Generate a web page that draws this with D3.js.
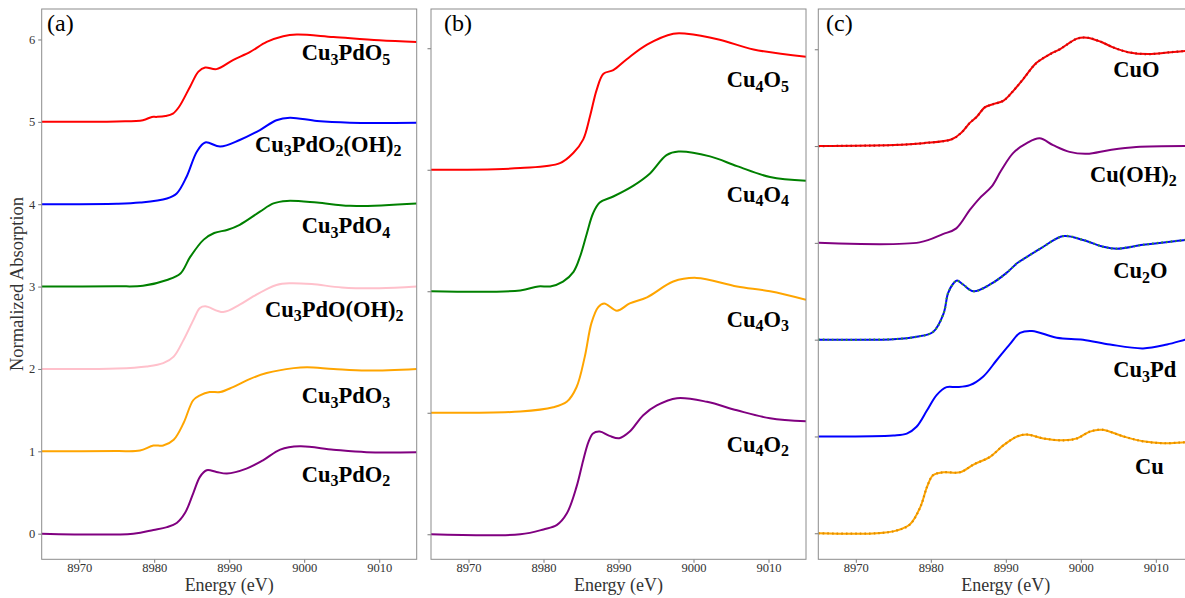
<!DOCTYPE html>
<html>
<head>
<meta charset="utf-8">
<script src="https://cdn.jsdelivr.net/npm/d3@7"></script>
<style>
  body { margin: 0; background: #fff; }
  svg { display: block; }
  text { font-family: "Liberation Serif", "Times New Roman", serif; }
</style>
</head>
<body>
<svg id="chart" width="1185" height="598"></svg>
<script>
// ---------- Cu K-edge XANES spectra (normalized absorption vs. energy in eV) ----------
const xTicks = [8970, 8980, 8990, 9000, 9010];
const panelLetters = ["(a)", "(b)", "(c)"];
const SERIF = "'Liberation Serif', 'Times New Roman', serif";

// Panel (a): Cu3PdOx(OH)y
const eCu3PdO5 = [8965, 8975, 8978.5, 8979.7, 8980.3, 8981.5, 8982.5, 8983.3, 8984.8, 8985.9, 8986.8, 8988.3, 8990.5, 8992.8, 8995, 8997.2, 8999, 9003.9, 9010, 9015];
const muCu3PdO5 = [0, 0.005, 0.02, 0.06, 0.06, 0.07, 0.10, 0.18, 0.43, 0.61, 0.66, 0.64, 0.75, 0.85, 0.97, 1.04, 1.06, 1.03, 0.99, 0.97];
const eCu3PdO2OH2 = [8965, 8975, 8978.1, 8981.7, 8983, 8984.3, 8985.7, 8986.8, 8988.8, 8991.4, 8994.1, 8996.3, 8998.1, 9001.7, 9006.1, 9015];
const muCu3PdO2OH2 = [0, 0.005, 0.02, 0.07, 0.13, 0.33, 0.64, 0.75, 0.70, 0.78, 0.90, 1.02, 1.05, 1.01, 0.99, 0.99];
const eCu3PdO4 = [8965, 8975, 8978.5, 8981.7, 8983.5, 8984.8, 8986.6, 8988, 8989.8, 8991.4, 8994.1, 8995.9, 8997.7, 9001.7, 9006.1, 9015];
const muCu3PdO4 = [0, 0.003, 0.01, 0.08, 0.16, 0.36, 0.57, 0.65, 0.69, 0.75, 0.91, 1.01, 1.04, 1.02, 0.98, 1.01];
const eCu3PdOOH2 = [8965, 8975, 8979, 8981.2, 8982.6, 8983.9, 8985.2, 8986.1, 8986.8, 8989.2, 8991.4, 8993.2, 8995, 8996.3, 8998, 9001, 9005, 9010, 9015];
const muCu3PdOOH2 = [0, 0.005, 0.03, 0.07, 0.15, 0.35, 0.59, 0.74, 0.76, 0.69, 0.78, 0.88, 0.97, 1.02, 1.04, 1.03, 0.99, 0.98, 1.0];
const eCu3PdO3 = [8965, 8975, 8978.1, 8979.9, 8981.2, 8982.6, 8983.9, 8985.2, 8986.1, 8987.4, 8988.8, 8990.5, 8992.8, 8995, 8998.6, 9000.4, 9003.9, 9008.3, 9015];
const muCu3PdO3 = [0, 0.003, 0.01, 0.07, 0.07, 0.14, 0.34, 0.62, 0.68, 0.72, 0.72, 0.78, 0.88, 0.95, 1.01, 1.02, 1.0, 0.98, 1.0];
const eCu3PdO2 = [8965, 8977.2, 8979.9, 8981.7, 8983, 8984.1, 8985.2, 8986.1, 8987, 8988.3, 8989.7, 8992.3, 8994.5, 8996.8, 8999.4, 9003.9, 9008.3, 9015];
const muCu3PdO2 = [0, 0.0, 0.045, 0.08, 0.13, 0.25, 0.49, 0.69, 0.77, 0.75, 0.73, 0.79, 0.89, 1.02, 1.06, 1.02, 0.99, 0.99];

// Panel (b): Cu4Ox clusters
const eCu4O5 = [8965, 8976.9, 8982.2, 8984, 8985.3, 8986.2, 8987.1, 8988, 8989.3, 8991.1, 8993.8, 8997.3, 8999.1, 9003.5, 9008, 9015];
const muCu4O5 = [0, 0.014, 0.055, 0.14, 0.25, 0.44, 0.66, 0.79, 0.82, 0.91, 1.03, 1.12, 1.12, 1.07, 0.99, 0.93];
const eCu4O4 = [8965, 8976.9, 8979.3, 8980.9, 8982.6, 8984, 8984.9, 8985.8, 8986.6, 8987.5, 8989.3, 8992, 8994.2, 8996.4, 8998, 9002.2, 9005.8, 9010.2, 9015];
const muCu4O4 = [0, 0.006, 0.04, 0.04, 0.08, 0.16, 0.29, 0.48, 0.64, 0.73, 0.78, 0.87, 0.97, 1.12, 1.15, 1.11, 1.03, 0.94, 0.91];
const eCu4O3 = [8965, 8976.9, 8981.3, 8983.1, 8984.4, 8985.5, 8986.4, 8987.3, 8988.1, 8989.8, 8991.5, 8993.8, 8997.3, 9000.4, 9005.8, 9010.2, 9015];
const muCu4O3 = [0, 0.01, 0.045, 0.09, 0.21, 0.46, 0.74, 0.87, 0.90, 0.84, 0.90, 0.95, 1.08, 1.11, 1.04, 1.0, 0.93];
const eCu4O2 = [8965, 8976.9, 8980, 8981.8, 8983.1, 8984.4, 8985.3, 8986, 8986.6, 8987.5, 8988.8, 8990.1, 8991.5, 8993.3, 8995.1, 8997.8, 9001.8, 9005.8, 9010.2, 9015];
const muCu4O2 = [0, 0, 0.04, 0.077, 0.17, 0.39, 0.61, 0.76, 0.83, 0.845, 0.81, 0.79, 0.845, 0.98, 1.06, 1.12, 1.09, 1.02, 0.955, 0.93];

// Panel (c): reference compounds (solid = calculated, dotted = measured)
const eCuO = [8965, 8975, 8979, 8982.8, 8984.1, 8985.2, 8986.1, 8987.2, 8988.2, 8989.7, 8991.0, 8992.3, 8994.1, 8995.9, 8997.2, 8999.5, 9000.8, 9002.6, 9004.3, 9006.3, 9009.0, 9012, 9015];
const muCuO = [0, 0.01, 0.03, 0.07, 0.14, 0.24, 0.30, 0.40, 0.43, 0.47, 0.57, 0.69, 0.86, 0.95, 1.00, 1.11, 1.12, 1.08, 1.02, 0.97, 0.95, 0.97, 0.99];
const eCuOH2 = [8965, 8978.5, 8981.6, 8983.4, 8985.2, 8986.5, 8988.1, 8989.4, 8991.0, 8992.8, 8994.5, 8996.3, 8998.5, 9000.8, 9003.9, 9007.4, 9015];
const muCuOH2 = [0, 0.005, 0.09, 0.15, 0.34, 0.46, 0.58, 0.75, 0.93, 1.03, 1.08, 1.01, 0.94, 0.92, 0.96, 0.99, 1.0];
const eCu2O = [8965, 8975, 8978.1, 8980.3, 8981.7, 8982.3, 8983.0, 8983.5, 8984.3, 8985.7, 8987.9, 8990.1, 8991.5, 8992.3, 8994.6, 8997.7, 9000.3, 9003.0, 9004.8, 9008.3, 9013.9, 9015];
const muCu2O = [0, 0.005, 0.03, 0.08, 0.27, 0.48, 0.58, 0.61, 0.57, 0.50, 0.57, 0.69, 0.79, 0.83, 0.94, 1.07, 1.03, 0.96, 0.94, 0.98, 1.03, 1.04];
const eCu3Pd = [8965, 8975, 8976.8, 8978.1, 8979.5, 8980.8, 8982.1, 8983.5, 8985.2, 8987.0, 8988.8, 8990.6, 8991.9, 8993.5, 8996.8, 9000.3, 9003.9, 9008.3, 9011.5, 9013.9, 9015];
const muCu3Pd = [0, 0.01, 0.03, 0.10, 0.27, 0.43, 0.51, 0.51, 0.53, 0.62, 0.79, 0.96, 1.07, 1.09, 1.02, 1.00, 0.95, 0.91, 0.95, 1.00, 1.02];
const eCu = [8965, 8972.8, 8975.5, 8977.2, 8978.6, 8979.5, 8980.3, 8981.7, 8983.9, 8985.7, 8987.9, 8989.7, 8991.5, 8992.8, 8995.0, 8997.7, 8999.5, 9001.2, 9002.8, 9005.7, 9008.3, 9011.0, 9013.9, 9015];
const muCu = [0, 0, 0.03, 0.09, 0.27, 0.48, 0.60, 0.63, 0.63, 0.71, 0.79, 0.91, 1.00, 1.02, 0.98, 0.96, 0.98, 1.05, 1.07, 1.00, 0.95, 0.93, 0.94, 0.94];

// Vertical offsets and labels (subscripts written as _{n})
const offsetsA = [5, 4, 3, 2, 1, 0];
const labelsA = ["Cu_{3}PdO_{5}", "Cu_{3}PdO_{2}(OH)_{2}", "Cu_{3}PdO_{4}", "Cu_{3}PdO(OH)_{2}", "Cu_{3}PdO_{3}", "Cu_{3}PdO_{2}"];
const colorsA = ["#ff0000", "#0000ff", "#008000", "#ffc0cb", "#ffa500", "#800080"];
const offsetsB = [3, 2, 1, 0];
const labelsB = ["Cu_{4}O_{5}", "Cu_{4}O_{4}", "Cu_{4}O_{3}", "Cu_{4}O_{2}"];
const colorsB = ["#ff0000", "#008000", "#ffa500", "#800080"];
const offsetsC = [4, 3, 2, 1, 0];
const labelsC = ["CuO", "Cu(OH)_{2}", "Cu_{2}O", "Cu_{3}Pd", "Cu"];
const colorsC = ["#ff0000", "#800080", "#0000ff", "#0000ff", "#ffa500"];
const dotColorsC = ["#c40f0f", null, "#2e9a2e", null, "#e08e00"];

const yTicksA = [0, 1, 2, 3, 4, 5, 6];
const yTicksB = [0, 1, 2, 3, 4];
const yTicksC = [0, 1, 2, 3, 4, 5];

// ---------- layout ----------
const svg = d3.select("#chart");
const frameTop = 9, frameBottom = 559.3;
const panels = [
  { left: 41.7, right: 416.7, yDomain: [-0.311, 6.37], yTicks: yTicksA, yLabels: true,
    energies: [eCu3PdO5, eCu3PdO2OH2, eCu3PdO4, eCu3PdOOH2, eCu3PdO3, eCu3PdO2],
    mus: [muCu3PdO5, muCu3PdO2OH2, muCu3PdO4, muCu3PdOOH2, muCu3PdO3, muCu3PdO2],
    offsets: offsetsA, labels: labelsA, colors: colorsA, dots: [],
    labelPos: [[301.7, 60], [255, 151.7], [301.7, 233.3], [265, 316.7], [301.7, 403.3], [301.7, 481.7]],
    letterPos: [47, 31] },
  { left: 431, right: 806, yDomain: [-0.206, 4.323], yTicks: yTicksB, yLabels: false,
    energies: [eCu4O5, eCu4O4, eCu4O3, eCu4O2],
    mus: [muCu4O5, muCu4O4, muCu4O3, muCu4O2],
    offsets: offsetsB, labels: labelsB, colors: colorsB, dots: [],
    labelPos: [[726.7, 87.3], [726.7, 201.7], [726.7, 326.7], [726.7, 451.7]],
    letterPos: [444, 31] },
  { left: 818.3, right: 1193.3, yDomain: [-0.269, 5.416], yTicks: yTicksC, yLabels: false,
    energies: [eCuO, eCuOH2, eCu2O, eCu3Pd, eCu],
    mus: [muCuO, muCuOH2, muCu2O, muCu3Pd, muCu],
    offsets: offsetsC, labels: labelsC, colors: colorsC, dots: dotColorsC,
    labelPos: [[1113.3, 76.7], [1090, 181.7], [1113.3, 278.3], [1113.3, 377.3], [1135, 474]],
    letterPos: [826, 31] }
];

function addRichText(sel, str, x, y, size, subSize, subShift) {
  const t = sel.append("text").attr("x", x).attr("y", y)
    .style("font-family", SERIF)
    .attr("font-size", size).attr("font-weight", "bold").attr("fill", "#000");
  const parts = str.split(/(_\{[^}]*\})/).filter(s => s.length);
  let shifted = false;
  parts.forEach(p => {
    if (p.startsWith("_{")) {
      t.append("tspan").attr("font-size", subSize).attr("dy", subShift).text(p.slice(2, -1));
      shifted = true;
    } else {
      const ts = t.append("tspan").text(p);
      if (shifted) { ts.attr("dy", -subShift); shifted = false; }
    }
  });
}

panels.forEach((p, i) => {
  const x = d3.scaleLinear().domain([8965, 9015]).range([p.left, p.right]);
  const y = d3.scaleLinear().domain(p.yDomain).range([frameBottom, frameTop]);
  const g = svg.append("g");

  const clipId = "clip" + i;
  svg.append("clipPath").attr("id", clipId).append("rect")
    .attr("x", p.left).attr("y", frameTop)
    .attr("width", p.right - p.left).attr("height", frameBottom - frameTop);

  // x axis
  const xa = g.append("g").attr("transform", `translate(0,${frameBottom})`)
    .call(d3.axisBottom(x).tickValues(xTicks).tickFormat(d3.format("d")).tickSize(3.5).tickPadding(0.6));
  xa.attr("font-family", null);
  xa.select(".domain").remove();
  xa.selectAll("line").attr("stroke", "#777");
  xa.selectAll("text").style("font-family", SERIF).style("font-size", "12.5px").attr("fill", "#333");

  // y axis
  const ya = g.append("g").attr("transform", `translate(${p.left},0)`)
    .call(d3.axisLeft(y).tickValues(p.yTicks).tickSize(3.5).tickPadding(3)
      .tickFormat(p.yLabels ? d3.format("d") : () => ""));
  ya.attr("font-family", null);
  ya.select(".domain").remove();
  ya.selectAll("line").attr("stroke", "#777");
  ya.selectAll("text").style("font-family", SERIF).style("font-size", "12.5px").attr("fill", "#333");

  // spectra
  const lines = g.append("g").attr("clip-path", `url(#${clipId})`);
  const line = d3.line().x(d => x(d[0])).y(d => y(d[1])).curve(d3.curveCatmullRom.alpha(0.5));
  p.energies.forEach((es, k) => {
    const pts = es.map((e, j) => [e, p.mus[k][j] + p.offsets[k]]);
    lines.append("path").attr("d", line(pts)).attr("fill", "none")
      .attr("stroke", p.colors[k]).attr("stroke-width", 2).attr("stroke-linejoin", "round");
    if (p.dots[k]) {
      lines.append("path").attr("d", line(pts)).attr("fill", "none")
        .attr("stroke", p.dots[k]).attr("stroke-width", 2.2)
        .attr("stroke-dasharray", "1.6,3");
    }
  });

  // frame
  g.append("rect").attr("x", p.left).attr("y", frameTop)
    .attr("width", p.right - p.left).attr("height", frameBottom - frameTop)
    .attr("fill", "none").attr("stroke", "#8c8c8c").attr("stroke-width", 1);

  // series labels
  p.labels.forEach((lab, k) => {
    addRichText(g, lab, p.labelPos[k][0], p.labelPos[k][1], 22.5, 16, 4.5);
  });

  // panel letter
  g.append("text").attr("x", p.letterPos[0]).attr("y", p.letterPos[1])
    .style("font-family", SERIF)
    .attr("font-size", 24).attr("fill", "#000").text(panelLetters[i]);

  // x axis title
  g.append("text").attr("x", (p.left + p.right) / 2).attr("y", 591)
    .style("font-family", SERIF)
    .attr("text-anchor", "middle").attr("font-size", 18).attr("fill", "#333")
    .text("Energy (eV)");
});

// y axis title
svg.append("text").attr("transform", "translate(23,284) rotate(-90)")
  .style("font-family", SERIF)
  .attr("text-anchor", "middle").attr("font-size", 18.5).attr("fill", "#333")
  .text("Normalized Absorption");
</script>
</body>
</html>
